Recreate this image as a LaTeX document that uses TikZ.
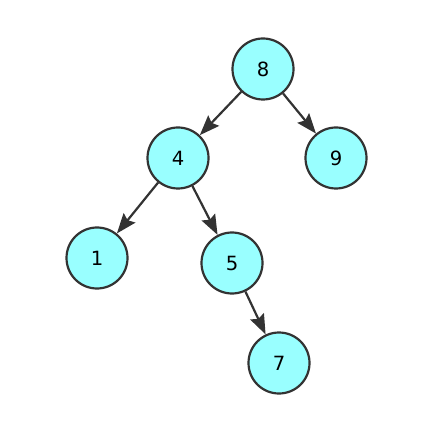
\documentclass[tikz,border=0pt]{standalone}
\usepackage{fontspec}
\setmainfont{DejaVu Sans}
\usetikzlibrary{arrows.meta}
\definecolor{nodecyan}{RGB}{153,255,255}
\definecolor{edgegray}{RGB}{51,51,51}

\begin{document}
\begin{tikzpicture}[x=0.5pt, y=-0.5pt,
    vertex/.style={circle, draw=edgegray, line width=1.1pt, fill=nodecyan,
                   minimum size=30.5pt, inner sep=0pt, font=\fontsize{9.8}{11}\selectfont},
    arr/.style={-{Stealth[length=10pt, width=7.5pt, inset=1.5pt]}, line width=1.1pt, color=edgegray}]

  \useasboundingbox (0,0) rectangle (434,437);

  \node[vertex] (n8) at (263,69) {8};
  \node[vertex] (n4) at (178,158) {4};
  \node[vertex] (n9) at (336,158) {9};
  \node[vertex] (n1) at (97,258) {1};
  \node[vertex] (n5) at (232,263) {5};
  \node[vertex] (n7) at (279,363) {7};

  \draw[arr] (n8) -- (n4);
  \draw[arr] (n8) -- (n9);
  \draw[arr] (n4) -- (n1);
  \draw[arr] (n4) -- (n5);
  \draw[arr] (n5) -- (n7);
\end{tikzpicture}
\end{document}
